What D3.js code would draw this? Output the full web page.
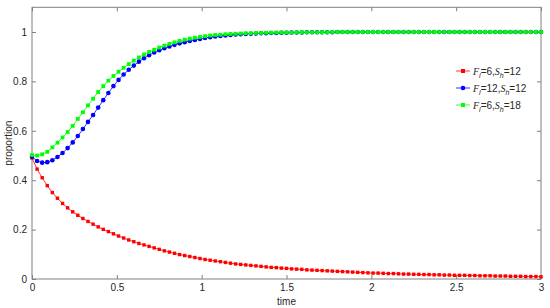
<!DOCTYPE html>
<html>
<head>
<meta charset="utf-8">
<script src="https://cdn.jsdelivr.net/npm/d3@7"></script>
<style>
body { margin: 0; background: #fff; }
svg text { font-family: "Liberation Sans", Arial, sans-serif; }
</style>
</head>
<body>
<div id="chart"></div>
<script>
// time grid step 0.03, 0..3
var timeStep = 0.03;

var redVals = [
  0.490,0.445,0.410,0.378,0.350,0.327,0.306,0.288,0.272,0.258,
  0.245,0.233,0.222,0.211,0.201,0.192,0.183,0.174,0.166,0.158,
  0.151,0.144,0.138,0.132,0.126,0.120,0.114,0.109,0.104,0.099,
  0.095,0.091,0.087,0.083,0.079,0.076,0.073,0.070,0.067,0.064,
  0.061,0.059,0.057,0.055,0.053,0.051,0.049,0.047,0.046,0.044,
  0.043,0.041,0.040,0.039,0.037,0.036,0.035,0.034,0.033,0.032,
  0.031,0.030,0.029,0.028,0.027,0.026,0.025,0.024,0.024,0.023,
  0.022,0.022,0.021,0.020,0.020,0.019,0.019,0.018,0.018,0.017,
  0.017,0.016,0.016,0.015,0.015,0.015,0.014,0.014,0.013,0.013,
  0.013,0.012,0.012,0.012,0.011,0.011,0.011,0.010,0.010,0.010,
  0.009
];

var blueVals = [
  0.495,0.478,0.471,0.473,0.481,0.494,0.510,0.530,0.553,0.579,
  0.607,0.636,0.664,0.694,0.724,0.753,0.781,0.806,0.828,0.847,
  0.864,0.880,0.894,0.906,0.917,0.926,0.934,0.941,0.948,0.954,
  0.959,0.964,0.968,0.972,0.976,0.979,0.982,0.984,0.986,0.988,
  0.990,0.991,0.992,0.993,0.994,0.995,0.995,0.996,0.996,0.997,
  0.997,0.998,0.998,0.998,0.999,0.999,0.999,0.999,0.999,0.999,
  1.000,1.000,1.000,1.000,1.000,1.000,1.000,1.000,1.000,1.000,
  1.000,1.000,1.000,1.000,1.000,1.000,1.000,1.000,1.000,1.000,
  1.000,1.000,1.000,1.000,1.000,1.000,1.000,1.000,1.000,1.000,
  1.000,1.000,1.000,1.000,1.000,1.000,1.000,1.000,1.000,1.000,
  1.000
];

var greenVals = [
  0.502,0.500,0.505,0.515,0.533,0.552,0.573,0.595,0.620,0.648,
  0.675,0.703,0.730,0.757,0.781,0.803,0.822,0.839,0.855,0.870,
  0.884,0.897,0.909,0.919,0.928,0.937,0.945,0.952,0.958,0.964,
  0.969,0.973,0.977,0.980,0.983,0.986,0.988,0.989,0.991,0.992,
  0.993,0.994,0.995,0.995,0.996,0.996,0.997,0.997,0.998,0.998,
  0.998,0.998,0.999,0.999,0.999,0.999,0.999,0.999,0.999,1.000,
  1.000,1.000,1.000,1.000,1.000,1.000,1.000,1.000,1.000,1.000,
  1.000,1.000,1.000,1.000,1.000,1.000,1.000,1.000,1.000,1.000,
  1.000,1.000,1.000,1.000,1.000,1.000,1.000,1.000,1.000,1.000,
  1.000,1.000,1.000,1.000,1.000,1.000,1.000,1.000,1.000,1.000,
  1.000
];

var xTicks = [0, 0.5, 1, 1.5, 2, 2.5, 3];
var xTickLabels = ["0", "0.5", "1", "1.5", "2", "2.5", "3"];
var yTicks = [0, 0.2, 0.4, 0.6, 0.8, 1];
var yTickLabels = ["0", "0.2", "0.4", "0.6", "0.8", "1"];

// legend: [F sub l value, S sub h value]
var legendNames = [["6", "12"], ["12", "12"], ["6", "18"]];
var seriesColors = ["#ff0000", "#0000ff", "#00ff00"];

var W = 550, H = 308;
var margin = {left: 32, right: 9, top: 7.3, bottom: 29};
var iw = W - margin.left - margin.right, ih = H - margin.top - margin.bottom;

var svg = d3.select("#chart").append("svg")
    .attr("width", W).attr("height", H);

var g = svg.append("g").attr("transform", "translate(" + margin.left + "," + margin.top + ")");

var x = d3.scaleLinear().domain([0, 3]).range([0, iw]);
var y = d3.scaleLinear().domain([0, 1.1]).range([ih, 0]);

var axisColor = "#808080";

function styleAxis(sel) {
    sel.select(".domain").remove();
    sel.selectAll(".tick line").attr("stroke", axisColor);
    sel.selectAll(".tick text").attr("fill", "#262626").style("font-size", "10px");
}

g.append("g").attr("transform", "translate(0," + ih + ")")
    .call(d3.axisBottom(x).tickValues(xTicks).tickFormat(function(d, i){ return xTickLabels[i]; })
        .tickSize(-4).tickPadding(5))
    .call(styleAxis);
g.append("g")
    .call(d3.axisTop(x).tickValues(xTicks).tickFormat("").tickSize(-4))
    .call(styleAxis);
g.append("g")
    .call(d3.axisLeft(y).tickValues(yTicks).tickFormat(function(d, i){ return yTickLabels[i]; })
        .tickSize(-4).tickPadding(5))
    .call(styleAxis);
g.append("g").attr("transform", "translate(" + iw + ",0)")
    .call(d3.axisRight(y).tickValues(yTicks).tickFormat("").tickSize(-4))
    .call(styleAxis);

g.append("rect").attr("width", iw).attr("height", ih)
    .attr("fill", "none").attr("stroke", axisColor).attr("stroke-width", 1);

// axis titles
g.append("text").attr("x", iw / 2).attr("y", ih + 26)
    .attr("text-anchor", "middle").style("font-size", "10px").attr("fill", "#262626")
    .text("time");
svg.append("text").attr("transform", "translate(12," + (margin.top + y(0.55)) + ") rotate(-90)")
    .attr("text-anchor", "middle").style("font-size", "10px").attr("fill", "#262626")
    .text("proportion");

var series = [redVals, blueVals, greenVals];
var line = d3.line()
    .x(function(d, i){ return x(i * timeStep); })
    .y(function(d){ return y(d); });

series.forEach(function(vals, k) {
    var col = seriesColors[k];
    g.append("path").datum(vals)
        .attr("d", line).attr("fill", "none")
        .attr("stroke", col).attr("stroke-width", 0.8);
    var pts = g.append("g").selectAll("m").data(vals).enter();
    if (k === 1) {
        pts.append("circle")
            .attr("cx", function(d, i){ return x(i * timeStep); })
            .attr("cy", function(d){ return y(d); })
            .attr("r", 2.3).attr("fill", col);
    } else {
        var s = k === 0 ? 3.4 : 3.8;
        pts.append("rect")
            .attr("x", function(d, i){ return x(i * timeStep) - s / 2; })
            .attr("y", function(d){ return y(d) - s / 2; })
            .attr("width", s).attr("height", s).attr("fill", col);
    }
});

// legend
var leg = svg.append("g").attr("transform", "translate(456,71)");
legendNames.forEach(function(nm, k) {
    var row = leg.append("g").attr("transform", "translate(0," + (k * 17) + ")");
    var col = seriesColors[k];
    row.append("line").attr("x1", 0).attr("x2", 14).attr("y1", 0).attr("y2", 0)
        .attr("stroke", col).attr("stroke-width", 0.8);
    if (k === 1) row.append("circle").attr("cx", 7).attr("cy", 0).attr("r", 2.3).attr("fill", col);
    else row.append("rect").attr("x", 5).attr("y", -2).attr("width", 4).attr("height", 4).attr("fill", col);
    var t = row.append("text").attr("x", 17).attr("y", 3.5)
        .style("font-size", "10px").attr("fill", "#262626");
    t.append("tspan").style("font-style", "italic").style("font-family", "'Liberation Serif', serif").text("F");
    t.append("tspan").attr("dy", 3).style("font-size", "7px").style("font-style", "italic").text("l");
    t.append("tspan").attr("dy", -3).text("=" + nm[0] + ",");
    t.append("tspan").style("font-style", "italic").style("font-family", "'Liberation Serif', serif").text("S");
    t.append("tspan").attr("dy", 3).style("font-size", "7px").style("font-style", "italic").text("h");
    t.append("tspan").attr("dy", -3).text("=" + nm[1]);
});
</script>
</body>
</html>
